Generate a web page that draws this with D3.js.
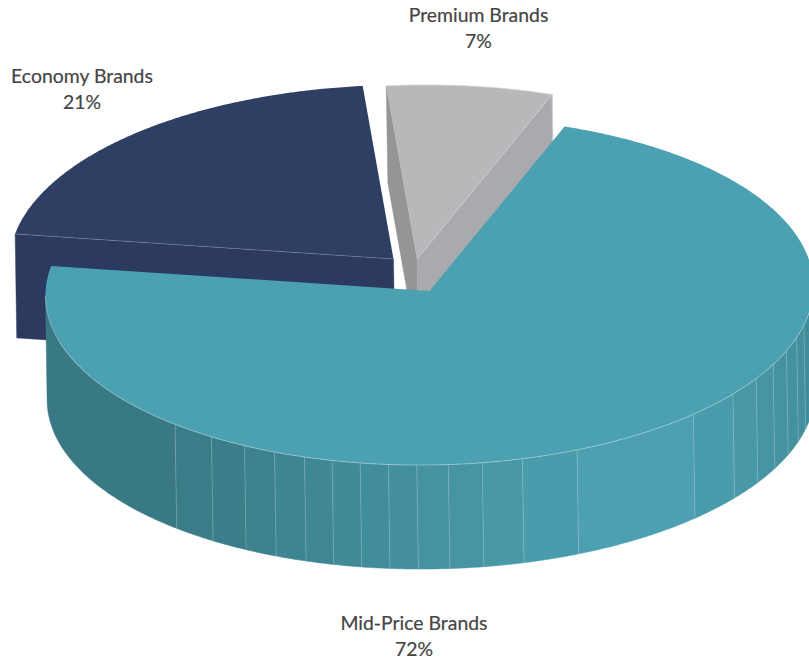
<!DOCTYPE html>
<html>
<head>
<meta charset="utf-8">
<script src="https://cdn.jsdelivr.net/npm/d3@7/dist/d3.min.js"></script>
<style>
  html, body { margin: 0; padding: 0; background: #fff; overflow: hidden; }
  text { font-family: Lato, sans-serif; fill: #454545; font-size: 19.4px; stroke: #454545; stroke-width: 0.2px; }
</style>
</head>
<body>
<svg id="chart" width="809" height="662"></svg>
<script>
// Brand tier shares
const categories = ["Mid-Price Brands", "Economy Brands", "Premium Brands"];
const shares = [72, 21, 7];

// Facet edges on the front rim of the large slice, in degrees clockwise from the top
const rimFacets = [221.5, 214.6, 208.8, 203.8, 199.0, 194.7, 190.4, 186.15, 181.9, 177.2,
                   172.1, 166, 157.4, 136.6, 127.8, 121.7, 116.5, 111.6, 107, 102.8];
const rimShadeAngles = [270, 215, 180, 160, 140, 120, 90];
const rimShades = ["#387681", "#3a7c88", "#4592a1", "#4b9dae", "#4ca1b2", "#4795a4", "#3f8997"];

// Disc projection
const cx = 429.5, cy = 291, rx = 384, ry = 174, skew = -0.012;
const drop = { x: 1.6 };
const startDeg = 20.6;

const pieceStyle = [
  { top: "#4ba1b2", offset: [0, 0], depth: 104, label: [414, 630] },
  { top: "#2f3f64", offset: [-36, -32], depth: 104, label: [82, 83], startFace: "#2c3a5f", edge: "rgba(255,255,255,0.28)", startEdge: true },
  { top: "#b7b8ba", offset: [-12.5, -32], depth: 97, label: [478.5, 22], startFace: "#949597", endFace: "#a9aaad", edge: "#d3d4d6" }
];

const svg = d3.select("#chart");
const rad = Math.PI / 180;

// Map an angle and a centre offset onto the tilted disc
const project = (a, off, down = 0) => {
  const s = Math.sin(a), c = Math.cos(a);
  return [
    cx + off[0] + rx * s + (down ? drop.x : 0),
    cy + off[1] - ry * c + skew * rx * s + down
  ];
};
const arcPoints = (a0, a1, off, down = 0) => {
  const n = Math.max(2, Math.ceil(Math.abs(a1 - a0) / (0.5 * rad)));
  return d3.range(n + 1).map(i => project(a0 + (a1 - a0) * i / n, off, down));
};
const line = d3.line();
const closed = pts => line(pts) + "Z";
const apex = (off, down = 0) => [cx + off[0] + (down ? drop.x : 0), cy + off[1] + down];

const slices = d3.pie()
  .sort(null)
  .value(d => d)
  .startAngle(startDeg * rad)
  .endAngle((startDeg + 360) * rad)(shares);

const rimColor = d3.scaleLinear().domain(rimShadeAngles).range(rimShades).interpolate(d3.interpolateRgb);

// Cut faces and top of one slice
function drawSlice(i) {
  const d = slices[i], st = pieceStyle[i], off = st.offset, h = st.depth;
  const g = svg.append("g");
  const face = (a, fill) => {
    const rimTop = project(a, off), rimBot = project(a, off, h);
    g.append("path")
      .attr("d", closed([apex(off), rimTop, rimBot, apex(off, h)]))
      .attr("fill", fill).attr("stroke", fill).attr("stroke-width", 0.4);
  };
  // A cut face shows only when its outward side points toward the viewer
  if (st.startFace && Math.sin(d.startAngle) < 0) face(d.startAngle, st.startFace);
  if (st.endFace && Math.sin(d.endAngle) > 0) face(d.endAngle, st.endFace);

  if (i === 0) drawRim(g, off, h);

  const topShape = [apex(off), ...arcPoints(d.startAngle, d.endAngle, off)];
  g.append("path").attr("d", closed(topShape)).attr("fill", st.top);

  if (st.edge) {
    const stroke = (pts, w) => g.append("path").attr("d", line(pts))
      .attr("fill", "none").attr("stroke", st.edge).attr("stroke-width", w);
    if (st.startEdge) stroke([apex(off), project(d.startAngle, off)], 0.7);
    if (st.endFace) {
      stroke([apex(off), project(d.endAngle, off)], 0.7);
      stroke(arcPoints(d.startAngle, d.endAngle, off), 0.7);
      stroke([project(d.endAngle, off), project(d.endAngle, off, h)], 0.8);
    }
  }
  if (i === 0) {
    g.append("path").attr("d", line(arcPoints(270 * rad, 90 * rad, off)))
      .attr("fill", "none").attr("stroke", "rgba(255,255,255,0.42)").attr("stroke-width", 0.8);
  }
}

// Faceted outer wall along the front of the disc
function drawRim(g, off, h) {
  const edges = [270, ...rimFacets, 90];
  d3.pairs(edges).forEach(([a, b]) => {
    const top = arcPoints(a * rad, b * rad, off);
    const bottom = arcPoints(b * rad, a * rad, off, h);
    const fill = rimColor((a + b) / 2);
    g.append("path").attr("d", closed([...top, ...bottom]))
      .attr("fill", fill).attr("stroke", fill).attr("stroke-width", 0.5);
  });
  rimFacets.forEach(a => {
    g.append("path")
      .attr("d", line([project(a * rad, off), project(a * rad, off, h)]))
      .attr("fill", "none").attr("stroke", "rgba(255,255,255,0.24)").attr("stroke-width", 0.9);
  });
}

// Back slices first so the large slice overlaps them
[1, 2, 0].forEach(drawSlice);

// Two-line labels
categories.forEach((name, i) => {
  const [x, y] = pieceStyle[i].label;
  const t = svg.append("text").attr("text-anchor", "middle");
  t.append("tspan").attr("x", x).attr("y", y).text(name);
  t.append("tspan").attr("x", x).attr("y", y + 26).text(shares[i] + "%");
});
</script>
</body>
</html>
